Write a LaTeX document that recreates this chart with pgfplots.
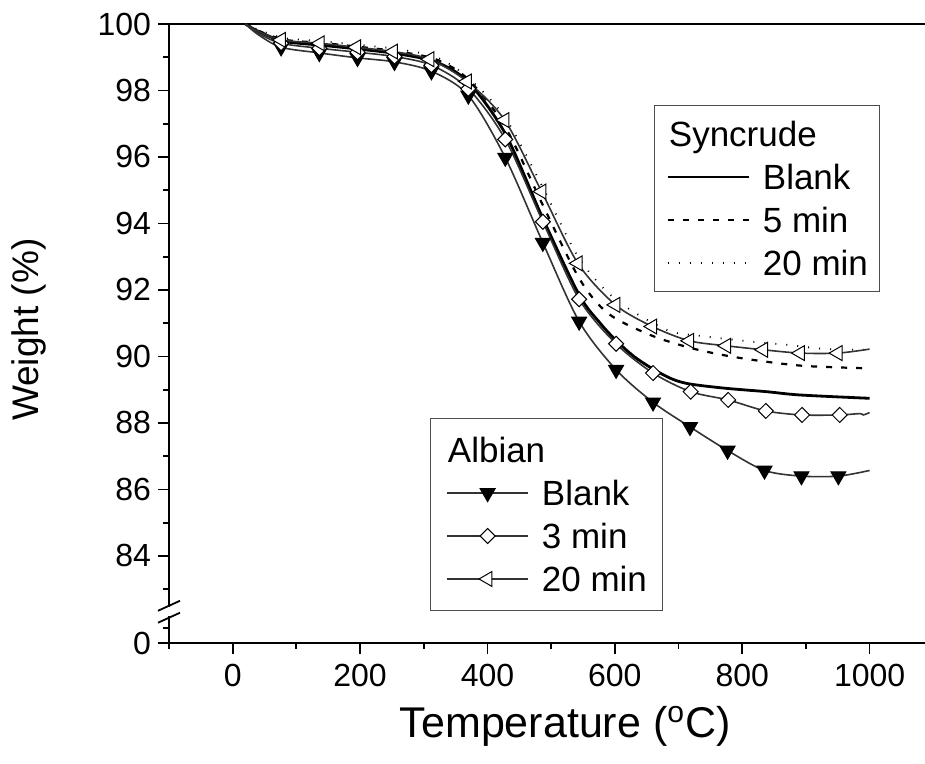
\documentclass[border=0pt]{standalone}
\usepackage{fontspec}
\setmainfont{Liberation Sans}
\usepackage{pgfplots}
\pgfplotsset{compat=1.18}

\pgfplotsset{
  frame/.style={
    width=378pt, height=309.5pt, scale only axis,
    xmin=-100, xmax=1087, ymin=81.38, ymax=100,
    clip=false,
  },
  boxleg/.style={
    legend cell align=left,
    legend image code/.code={\draw[mark repeat=2,mark phase=2,##1] plot coordinates {(0pt,0pt)(20.25pt,0pt)(40.5pt,0pt)};},
    legend style={draw=black!70, line width=0.5pt, fill=white,
      font=\fontsize{17.5}{21}\selectfont,
      inner xsep=6pt, inner ysep=8pt, row sep=9pt, column sep=6.5pt,
      nodes={inner sep=0pt, text height=12.5pt, text depth=0pt}},
  },
  albline/.style={black!80, line width=0.8pt, solid},
  mdown/.style={mark=triangle*, mark size=4.3pt, mark options={rotate=180, fill=black, draw=black, line width=0.5pt, solid}},
  mdia/.style={mark=square*, mark size=2.65pt, mark options={rotate=45, fill=white, draw=black, line width=0.5pt, solid}},
  mleft/.style={mark=triangle*, mark size=4.3pt, mark options={rotate=90, fill=white, draw=black, line width=0.5pt, solid}},
  sblank/.style={black, line width=1.4pt, solid},
  sfive/.style={black, line width=1.1pt, dash pattern=on 3pt off 4.5pt},
  stwenty/.style={black, line width=0.9pt, dash pattern=on 0.5pt off 5pt},
}

\begin{document}
\begin{tikzpicture}
% main axis: Syncrude curves
\begin{axis}[frame, boxleg,
  axis x line*=bottom, axis y line*=left,
  axis line style={line width=0.9pt, -},
  tick align=outside,
  tick style={line width=0.9pt, black},
  major tick length=5.5pt, minor tick length=3pt,
  xtick={0,200,...,1000}, minor xtick={-100,100,...,900},
  ytick={81.38,84,86,88,90,92,94,96,98,100},
  yticklabels={0,84,86,88,90,92,94,96,98,100},
  minor ytick={81.83,83,85,...,99},
  /pgf/number format/assume math mode=true,
  /pgf/number format/1000 sep={},
  ticklabel style={font=\fontsize{16}{19}\selectfont},
  xticklabel style={yshift=-1.5pt},
  xlabel={Temperature (\textsuperscript{o}C)},
  ylabel={Weight (\%)},
  xlabel style={font=\fontsize{21.5}{25}\selectfont, at={(axis description cs:0.524,-0.152)}, anchor=base},
  ylabel style={font=\fontsize{18.5}{22}\selectfont, at={(axis description cs:-0.172,0.506)}, anchor=base},
  legend style={at={(axis description cs:0.641,0.869)}, anchor=north west},
]
\addplot[sblank, smooth, forget plot] coordinates {(20,100)(40,99.78)(80,99.48)(140,99.36)(200,99.24)(260,99.1)(320,98.85)(370,98.25)(428,96.7)(487,94.15)(544,91.85)(577,91.0)(602,90.48)(630,90.0)(660,89.62)(690,89.32)(718,89.17)(775,89.04)(838,88.94)(891,88.84)(1000,88.74)};
\addplot[sfive, smooth, forget plot] coordinates {(20,100)(40,99.8)(80,99.53)(140,99.43)(200,99.31)(260,99.17)(320,98.93)(370,98.33)(428,96.9)(487,94.55)(544,92.35)(589,91.3)(655,90.65)(718,90.26)(776,90.02)(838,89.84)(901,89.71)(1000,89.64)};
\addplot[stwenty, smooth, forget plot] coordinates {(20,100)(40,99.83)(80,99.58)(140,99.48)(200,99.37)(260,99.24)(320,99.0)(370,98.38)(428,97.18)(487,95.08)(544,92.95)(601,91.72)(681,90.8)(734,90.62)(812,90.45)(870,90.35)(932,90.22)(1000,90.2)};

\addlegendimage{empty legend}\addlegendentry{\hspace*{-47pt}Syncrude}
\addlegendimage{sblank}\addlegendentry{Blank}
\addlegendimage{sfive}\addlegendentry{5 min}
\addlegendimage{stwenty}\addlegendentry{20 min}

% top frame line and axis break
\draw[line width=0.9pt] (rel axis cs:0,1) -- (rel axis cs:1,1);
\fill[white] ([xshift=-1.5pt]axis cs:-100,82.2) rectangle ([xshift=1.5pt]axis cs:-100,82.45);
\draw[line width=0.9pt] ([shift={(-5.5pt,-2.5pt)}]axis cs:-100,82.50) -- ++(11pt,5pt);
\draw[line width=0.9pt] ([shift={(-5.5pt,-2.5pt)}]axis cs:-100,82.14) -- ++(11pt,5pt);
\coordinate (bl) at (rel axis cs:0,0);
\coordinate (tr) at (rel axis cs:1,1);
\end{axis}

% overlay axis: Albian curves
\begin{axis}[frame, boxleg, hide axis,
  legend style={at={(axis description cs:0.345,0.3635)}, anchor=north west,
    inner xsep=8pt, inner ysep=9.5pt},
]
\addplot[albline, mdown, smooth, mark indices={3,...,18}, forget plot] coordinates {(20,100)(40,99.68)(76,99.3)(136,99.13)(196,98.98)(254,98.86)(312,98.58)(370,97.85)(428,95.98)(487,93.42)(544,91.05)(602,89.6)(660,88.62)(718,87.88)(777,87.17)(835,86.57)(893,86.40)(951,86.40)(1000,86.57)};
\addplot[albline, mdia, smooth, mark indices={3,...,18}, forget plot] coordinates {(20,100)(40,99.72)(76,99.42)(136,99.27)(196,99.15)(254,99.02)(312,98.76)(370,98.05)(428,96.53)(487,94.05)(544,91.72)(602,90.38)(660,89.5)(719,88.94)(778,88.69)(837,88.36)(894,88.24)(953,88.24)(985,88.28)(990,88.24)(1000,88.31)};
\addplot[albline, mleft, smooth, mark indices={3,...,18}, forget plot] coordinates {(20,100)(40,99.78)(76,99.52)(137,99.42)(194,99.30)(252,99.17)(309,98.94)(368,98.27)(427,97.11)(485,94.96)(542,92.80)(601,91.55)(659,90.90)(717,90.47)(775,90.32)(833,90.20)(891,90.10)(950,90.10)(1000,90.22)};

\addlegendimage{empty legend}\addlegendentry{\hspace*{-47pt}Albian}
\addlegendimage{albline, mdown}\addlegendentry{Blank}
\addlegendimage{albline, mdia}\addlegendentry{3 min}
\addlegendimage{albline, mleft}\addlegendentry{20 min}
\end{axis}

\pgfresetboundingbox
\useasboundingbox ([shift={(-84.5pt,-60.5pt)}]bl) rectangle ([yshift=12pt]tr);
\end{tikzpicture}
\end{document}
